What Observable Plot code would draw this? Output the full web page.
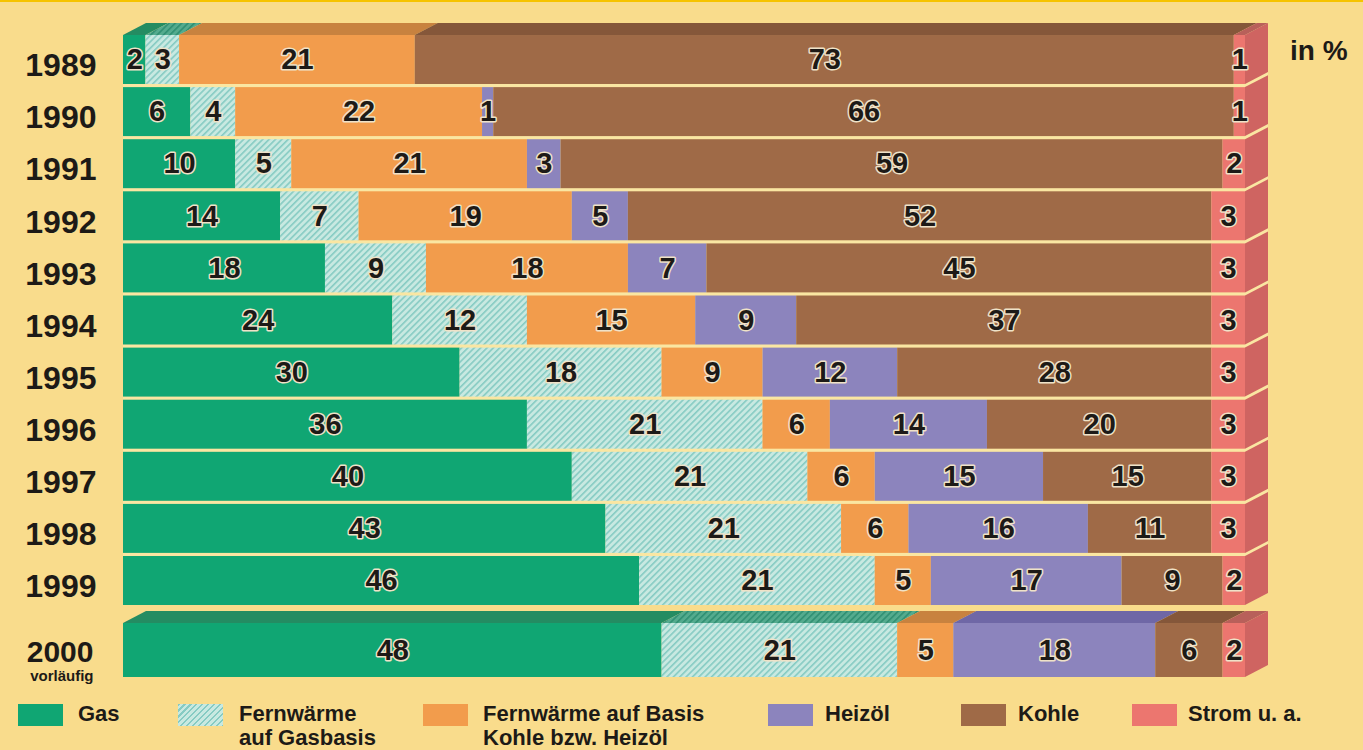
<!DOCTYPE html>
<html><head><meta charset="utf-8">
<script src="https://cdn.jsdelivr.net/npm/d3@7"></script>
<script src="https://cdn.jsdelivr.net/npm/@observablehq/plot@0.6"></script>
<style>
body{margin:0;background:#f9dc8c;width:1363px;height:750px;overflow:hidden;font-family:"Liberation Sans",Arial,sans-serif;}
#wrap{position:relative;width:1363px;height:750px;}
#topline{position:absolute;left:0;top:0;width:1363px;height:2px;background:#f6c300;}
#unit{position:absolute;left:1290px;top:34px;font-size:28px;font-weight:bold;color:#1d1a17;line-height:34px;}
#legend{position:relative;height:55px;}
.sw{position:absolute;top:9px;height:22px;width:45px;}
.lt{position:absolute;top:7px;font-size:22px;font-weight:bold;color:#1d1a17;line-height:24px;white-space:nowrap;}
</style></head><body><div id="wrap"><div id="topline"></div><div id="chart"></div><div id="legend"></div><div id="unit">in %</div></div>
<script>
// ---- data ----
const years = ["1989","1990","1991","1992","1993","1994","1995","1996","1997","1998","1999","2000"];
const gas       = [2, 6, 10, 14, 18, 24, 30, 36, 40, 43, 46, 48];
const fernGas   = [3, 4, 5, 7, 9, 12, 18, 21, 21, 21, 21, 21];
const fernKohle = [21, 22, 21, 19, 18, 15, 9, 6, 6, 6, 5, 5];
const heizoel   = [0, 1, 3, 5, 7, 9, 12, 14, 15, 16, 17, 18];
const kohle     = [73, 66, 59, 52, 45, 37, 28, 20, 15, 11, 9, 6];
const strom     = [1, 1, 2, 3, 3, 3, 3, 3, 3, 3, 2, 2];
const seriesNames = ["Gas", "Fernwärme auf Gasbasis", "Fernwärme auf Basis Kohle bzw. Heizöl", "Heizöl", "Kohle", "Strom u. a."];
const legendLines = [["Gas"], ["Fernwärme", "auf Gasbasis"], ["Fernwärme auf Basis", "Kohle bzw. Heizöl"], ["Heizöl"], ["Kohle"], ["Strom u. a."]];
const provisionalNote = "vorläufig";
const unitLabel = "in %";

// ---- styles ----
const seriesValues = [gas, fernGas, fernKohle, heizoel, kohle, strom];
const frontColors = ["#10a673", "url(#hatch)", "#f29c4c", "#8c84bd", "#9f6a47", "#ec766f"];
const topColors = ["#248c62", "url(#hatchTop)", "#c8823f", "#6f67a6", "#85573a", "#b8605a"];
const sideColor = "#cf6461";
const gapColor = "#fae6a2";
const textColor = "#1d1a17";
const FONT = "'Liberation Sans', Arial, sans-serif";
const DX = 2.05, DY = 0.23;   // 3D depth in data units
const lastGap = 0.334;        // extra spacing before the provisional row

const nRows = years.length;
const rowPos = years.map((y, i) => i < nRows - 1 ? i : i + lastGap);
const rowHalf = years.map((y, i) => i < nRows - 1 ? 0.47 : 0.518);

const segs = [];
years.forEach((yr, i) => {
  let acc = 0;
  seriesValues.forEach((vals, s) => {
    const v = vals[i];
    segs.push({year: yr, row: i, s, v, x0: acc, x1: acc + v, pos: rowPos[i], half: rowHalf[i]});
    acc += v;
  });
});
const visible = segs.filter(d => d.v > 0);
const rowEnds = years.map((yr, i) => d3.max(segs.filter(d => d.row === i), d => d.x1));

// top faces (first and provisional row)
const topRows = [0, nRows - 1];
const topPts = visible.filter(d => topRows.includes(d.row)).flatMap(d => [
  {k: d.row + "-" + d.s, y: d.pos - d.half, x1: d.x0, x2: d.x1, c: topColors[d.s]},
  {k: d.row + "-" + d.s, y: d.pos - d.half - DY, x1: d.x0 + DX, x2: d.x1 + DX, c: topColors[d.s]}
]);
// side faces
const sidePts = years.flatMap((yr, i) => [
  {k: i, x: rowEnds[i], y1: rowPos[i] - rowHalf[i], y2: rowPos[i] + rowHalf[i]},
  {k: i, x: rowEnds[i] + DX, y1: rowPos[i] - rowHalf[i] - DY, y2: rowPos[i] + rowHalf[i] - DY}
]);
// backing (light separators) for main block
const mainRows = d3.range(nRows - 1);
const bTop = rowPos[0] - rowHalf[0], bBot = rowPos[nRows - 2] + rowHalf[nRows - 2];
const backFront = [{x1: 0, x2: rowEnds[0], y1: bTop, y2: bBot}];
const backSide = [
  {x: rowEnds[0], y1: bTop, y2: bBot},
  {x: rowEnds[0] + DX, y1: bTop - DY, y2: bBot - DY}
];

const yearRows = years.map((y, i) => ({year: y, pos: rowPos[i], row: i}));

const chart = Plot.plot({
  width: 1363, height: 695,
  marginLeft: 0, marginRight: 0, marginTop: 0, marginBottom: 0,
  x: {domain: [0, 100], range: [123, 1245], axis: null},
  y: {domain: [0, 10], range: [59.5, 580.5], axis: null},
  color: {type: "identity"},
  style: {background: "transparent", fontFamily: FONT, overflow: "visible"},
  marks: [
    Plot.rect(backFront, {x1: "x1", x2: "x2", y1: "y1", y2: "y2", fill: gapColor}),
    Plot.areaY(backSide, {x: "x", y1: "y1", y2: "y2", fill: gapColor}),
    Plot.areaY(sidePts, {x: "x", y1: "y1", y2: "y2", z: "k", fill: sideColor}),
    Plot.areaX(topPts, {y: "y", x1: "x1", x2: "x2", z: "k", fill: "c"}),
    Plot.rect(visible, {x1: "x0", x2: "x1", y1: d => d.pos - d.half, y2: d => d.pos + d.half, fill: d => frontColors[d.s]}),
    Plot.text(visible, {x: d => (d.x0 + d.x1) / 2, y: "pos", text: d => String(d.v), fontSize: 29, fontWeight: "bold",
      fontFamily: FONT, fill: textColor, stroke: "#efe2c8", strokeWidth: 3, paintOrder: "stroke"}),
    Plot.text(yearRows.filter(d => d.row < nRows - 1), {y: "pos", text: "year", frameAnchor: "left", dx: 96, dy: 6,
      textAnchor: "end", fontSize: 32, fontWeight: "bold", fontFamily: FONT, fill: textColor}),
    Plot.text(yearRows.filter(d => d.row === nRows - 1), {y: "pos", text: "year", frameAnchor: "left", dx: 93, dy: 2,
      textAnchor: "end", fontSize: 30, fontWeight: "bold", fontFamily: FONT, fill: textColor}),
    Plot.text(yearRows.filter(d => d.row === nRows - 1), {y: "pos", text: () => provisionalNote, frameAnchor: "left", dx: 93, dy: 26,
      textAnchor: "end", fontSize: 15, fontWeight: "bold", fontFamily: FONT, fill: textColor})
  ]
});

const svg = d3.select(chart);
const defs = svg.insert("defs", ":first-child");
function hatch(id, bg, fg) {
  const p = defs.append("pattern").attr("id", id).attr("patternUnits", "userSpaceOnUse")
    .attr("width", 4.5).attr("height", 4.5).attr("patternTransform", "rotate(45)");
  p.append("rect").attr("width", 4.5).attr("height", 4.5).attr("fill", bg);
  p.append("rect").attr("width", 1.6).attr("height", 4.5).attr("fill", fg);
}
hatch("hatch", "#c8e9e1", "#86cbc3");
hatch("hatchTop", "#54ab8e", "#2f8f72");
document.getElementById("chart").appendChild(chart);
document.getElementById("unit").textContent = unitLabel;

// legend
const swX = [18, 178, 423, 768, 961, 1132];
const txX = [78, 239, 483, 825, 1018, 1188];
const swBg = ["#10a673", "repeating-linear-gradient(135deg,#86cbc3 0 1.5px,#c8e9e1 1.5px 4.2px)", "#f29c4c", "#8c84bd", "#9f6a47", "#ec766f"];
const leg = d3.select("#legend");
seriesNames.forEach((name, i) => {
  leg.append("div").attr("class", "sw").style("left", swX[i] + "px").style("background", swBg[i]).attr("title", name);
  leg.append("div").attr("class", "lt").style("left", txX[i] + "px").html(legendLines[i].join("<br>"));
});
</script></body></html>
